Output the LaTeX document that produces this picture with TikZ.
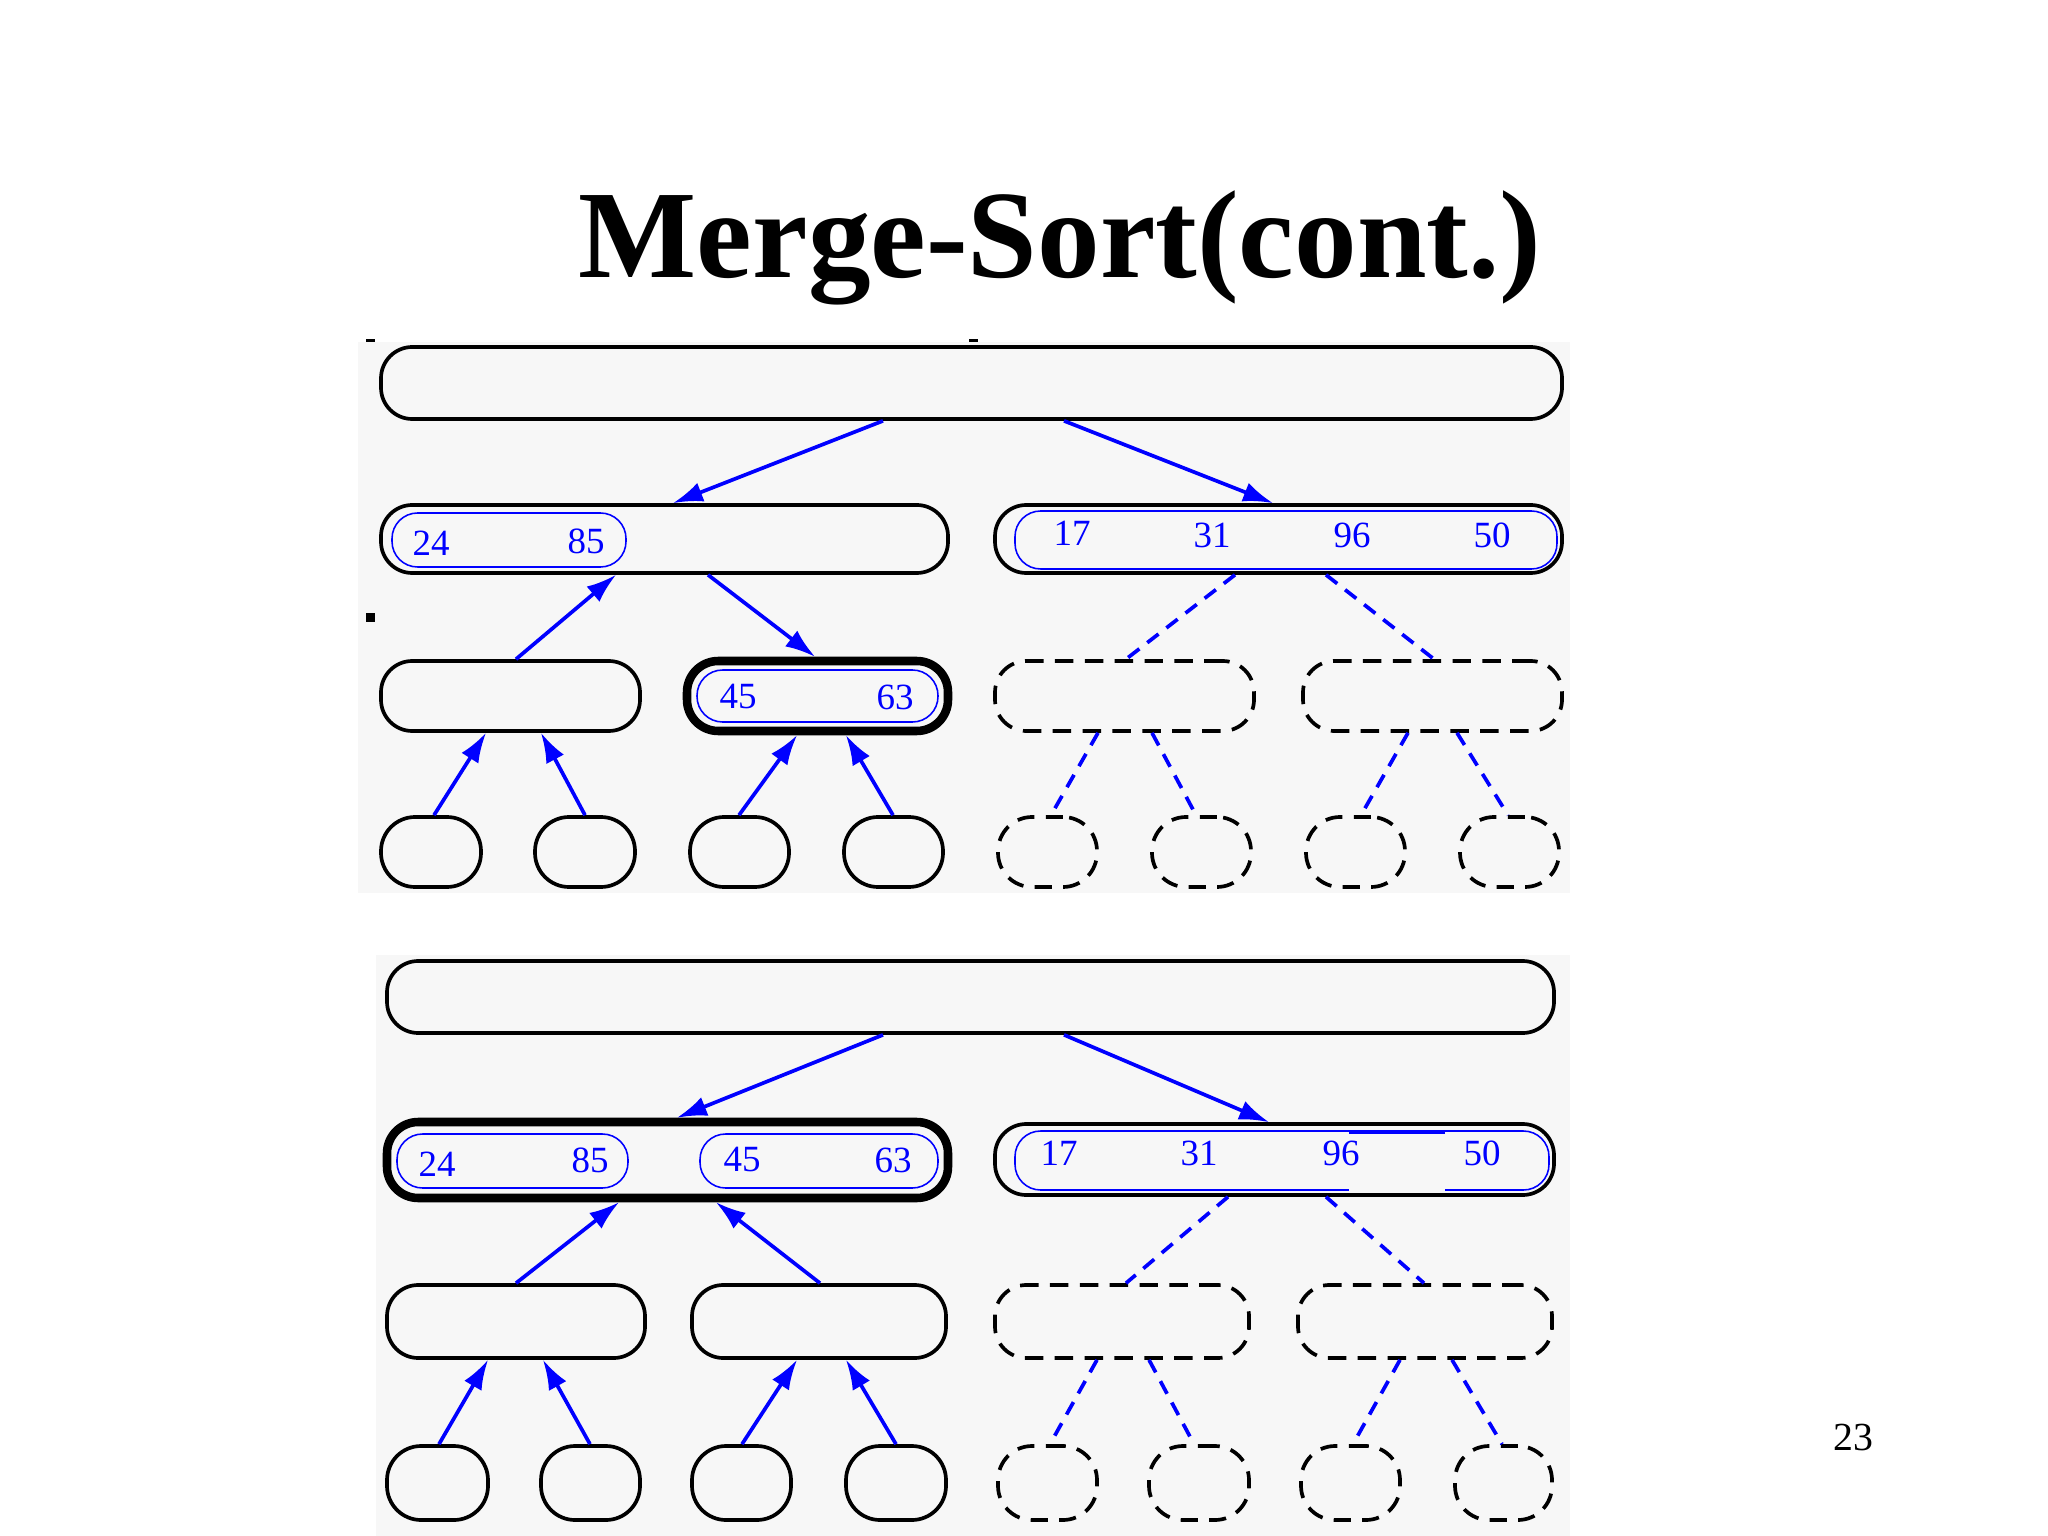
\documentclass[tikz,border=0pt]{standalone}
\usepackage{fontspec}
\setmainfont{Liberation Serif}
\usetikzlibrary{fit,arrows.meta}
\definecolor{panel}{RGB}{247,247,247}
\tikzset{
  bx/.style={draw=black, line width=1.3pt, rounded corners=11pt, inner sep=0pt},
  ovl/.style={bx, rounded corners=12pt},
  thickbx/.style={bx, line width=3pt},
  dbx/.style={bx, dash pattern=on 6.5pt off 4pt},
  dovl/.style={ovl, dash pattern=on 6pt off 4pt},
  ibx/.style={draw=blue, line width=0.55pt, rounded corners=9pt, inner sep=0pt},
  num/.style={text=blue, font=\fontsize{13}{15}\selectfont, inner sep=0pt},
  arr/.style={blue, line width=1.3pt, -{Latex[length=10.5pt,width=7pt]}},
  darr/.style={blue, line width=1.3pt, dash pattern=on 5pt off 3.5pt},
}
\begin{document}
\begin{tikzpicture}[x=0.3515625pt,y=-0.3515625pt]
\useasboundingbox (0,0) rectangle (2048,1536);
\fill[white] (0,0) rectangle (2048,1536);

% title and page number
\node[anchor=base, font=\bfseries\fontsize{44}{48}\selectfont] (title) at (1060,278) {Merge-Sort(cont.)};
\node[anchor=base, font=\fontsize{14}{16}\selectfont] (pnum) at (1853,1450) {23};

% ================= top panel =================
\fill[panel] (358,342) rectangle (1570,893);
\fill[black] (366,339) rectangle (375,342);
\fill[black] (969,339) rectangle (978,342);
\fill[black] (366,613) rectangle (375,622);

\node[bx, fit={(381,347)(1562,419)}] (T1) {};
\node[bx, fit={(381,505)(948,573)}] (L2a) {};
\node[bx, fit={(995,505)(1562,573)}] (L2b) {};
\node[bx, fit={(381,661)(640,731)}] (L3a) {};
\node[thickbx, fit={(687,661)(948,731)}] (L3b) {};
\node[dbx, fit={(995,661)(1254,731)}] (L3c) {};
\node[dbx, fit={(1303,661)(1562,731)}] (L3d) {};
\node[ovl, fit={(381,817)(481,887)}] (L4a) {};
\node[ovl, fit={(535,817)(635,887)}] (L4b) {};
\node[ovl, fit={(690,817)(789,887)}] (L4c) {};
\node[ovl, fit={(844,817)(943,887)}] (L4d) {};
\node[dovl, fit={(998,817)(1097,887)}] (L4e) {};
\node[dovl, fit={(1152,817)(1251,887)}] (L4f) {};
\node[dovl, fit={(1306,817)(1405,887)}] (L4g) {};
\node[dovl, fit={(1460,817)(1559,887)}] (L4h) {};

% inner blue boxes and numbers
\node[ibx, fit={(392,513)(626,567)}] (iA) {};
\node[num] (n24a) at (431,543) {24};
\node[num] (n85a) at (586,541) {85};
\node[ibx, fit={(1015,511)(1557,569)}] (iB) {};
\node[num] (n17a) at (1072,533) {17};
\node[num] (n31a) at (1212,535) {31};
\node[num] (n96a) at (1352,535) {96};
\node[num] (n50a) at (1492,535) {50};
\node[ibx, fit={(697,670)(938,722)}] (iC) {};
\node[num] (n45a) at (738,697) {45};
\node[num] (n63a) at (895,697) {63};

% connectors top panel
\draw[arr] (T1.south -| 883,0) -- (L2a.north -| 673,0);
\draw[arr] (T1.south -| 1064,0) -- (L2b.north -| 1273,0);
\draw[arr] (L3a.north -| 516,0) -- (L2a.south -| 616,0);
\draw[arr] (L2a.south -| 708,0) -- (L3b.north -| 815,0);
\draw[darr] (L2b.south -| 1235,0) -- (L3c.north -| 1126,0);
\draw[darr] (L2b.south -| 1326,0) -- (L3d.north -| 1434,0);
\draw[arr] (L4a.north -| 434,0) -- (L3a.south -| 486,0);
\draw[arr] (L4b.north -| 585,0) -- (L3a.south -| 541,0);
\draw[arr] (L4c.north -| 739,0) -- (L3b.south -| 797,0);
\draw[arr] (L4d.north -| 893,0) -- (L3b.south -| 846,0);
\draw[darr] (L3c.south -| 1098,0) -- (L4e.north -| 1051,0);
\draw[darr] (L3c.south -| 1152,0) -- (L4f.north -| 1196,0);
\draw[darr] (L3d.south -| 1408,0) -- (L4g.north -| 1361,0);
\draw[darr] (L3d.south -| 1457,0) -- (L4h.north -| 1508,0);

% ================= bottom panel =================
\fill[panel] (376,955) rectangle (1570,1536);

\node[bx, fit={(387,961)(1554,1033)}] (T2) {};
\node[thickbx, fit={(387,1122)(948,1198)}] (M2a) {};
\node[bx, fit={(995,1124)(1554,1195)}] (M2b) {};
\node[bx, fit={(387,1285)(645,1358)}] (M3a) {};
\node[bx, fit={(692,1285)(946,1358)}] (M3b) {};
\node[dbx, fit={(995,1285)(1249,1358)}] (M3c) {};
\node[dbx, fit={(1298,1285)(1552,1358)}] (M3d) {};
\node[ovl, fit={(387,1446)(488,1520)}] (M4a) {};
\node[ovl, fit={(541,1446)(640,1520)}] (M4b) {};
\node[ovl, fit={(692,1446)(791,1520)}] (M4c) {};
\node[ovl, fit={(846,1446)(946,1520)}] (M4d) {};
\node[dovl, fit={(998,1446)(1097,1520)}] (M4e) {};
\node[dovl, fit={(1149,1446)(1249,1520)}] (M4f) {};
\node[dovl, fit={(1301,1446)(1400,1520)}] (M4g) {};
\node[dovl, fit={(1455,1446)(1552,1520)}] (M4h) {};

\node[ibx, fit={(397,1134)(628,1188)}] (jA) {};
\node[num] (n24b) at (437,1164) {24};
\node[num] (n85b) at (590,1160) {85};
\node[ibx, fit={(700,1134)(938,1188)}] (jB) {};
\node[num] (n45b) at (742,1160) {45};
\node[num] (n63b) at (893,1160) {63};
\node[ibx, fit={(1015,1131)(1549,1190)}] (jC) {};
\draw[panel, line width=1.5pt] (1349,1190) -- (1445,1190);
\draw[blue, line width=1.3pt] (1349,1132) -- (1445,1132);
\node[num] (n17b) at (1059,1153) {17};
\node[num] (n31b) at (1199,1153) {31};
\node[num] (n96b) at (1341,1153) {96};
\node[num] (n50b) at (1482,1153) {50};

% connectors bottom panel
\draw[arr] (T2.south -| 883,0) -- (M2a.north -| 677,0);
\draw[arr] (T2.south -| 1064,0) -- (M2b.north -| 1269,0);
\draw[arr] (M3a.north -| 516,0) -- (M2a.south -| 619,0);
\draw[arr] (M3b.north -| 820,0) -- (M2a.south -| 716,0);
\draw[darr] (M2b.south -| 1228,0) -- (M3c.north -| 1126,0);
\draw[darr] (M2b.south -| 1326,0) -- (M3d.north -| 1424,0);
\draw[arr] (M4a.north -| 439,0) -- (M3a.south -| 488,0);
\draw[arr] (M4b.north -| 590,0) -- (M3a.south -| 543,0);
\draw[arr] (M4c.north -| 742,0) -- (M3b.south -| 797,0);
\draw[arr] (M4d.north -| 896,0) -- (M3b.south -| 846,0);
\draw[darr] (M3c.south -| 1097,0) -- (M4e.north -| 1050,0);
\draw[darr] (M3c.south -| 1149,0) -- (M4f.north -| 1194,0);
\draw[darr] (M3d.south -| 1400,0) -- (M4g.north -| 1353,0);
\draw[darr] (M3d.south -| 1452,0) -- (M4h.north -| 1502,0);
\end{tikzpicture}
\end{document}
